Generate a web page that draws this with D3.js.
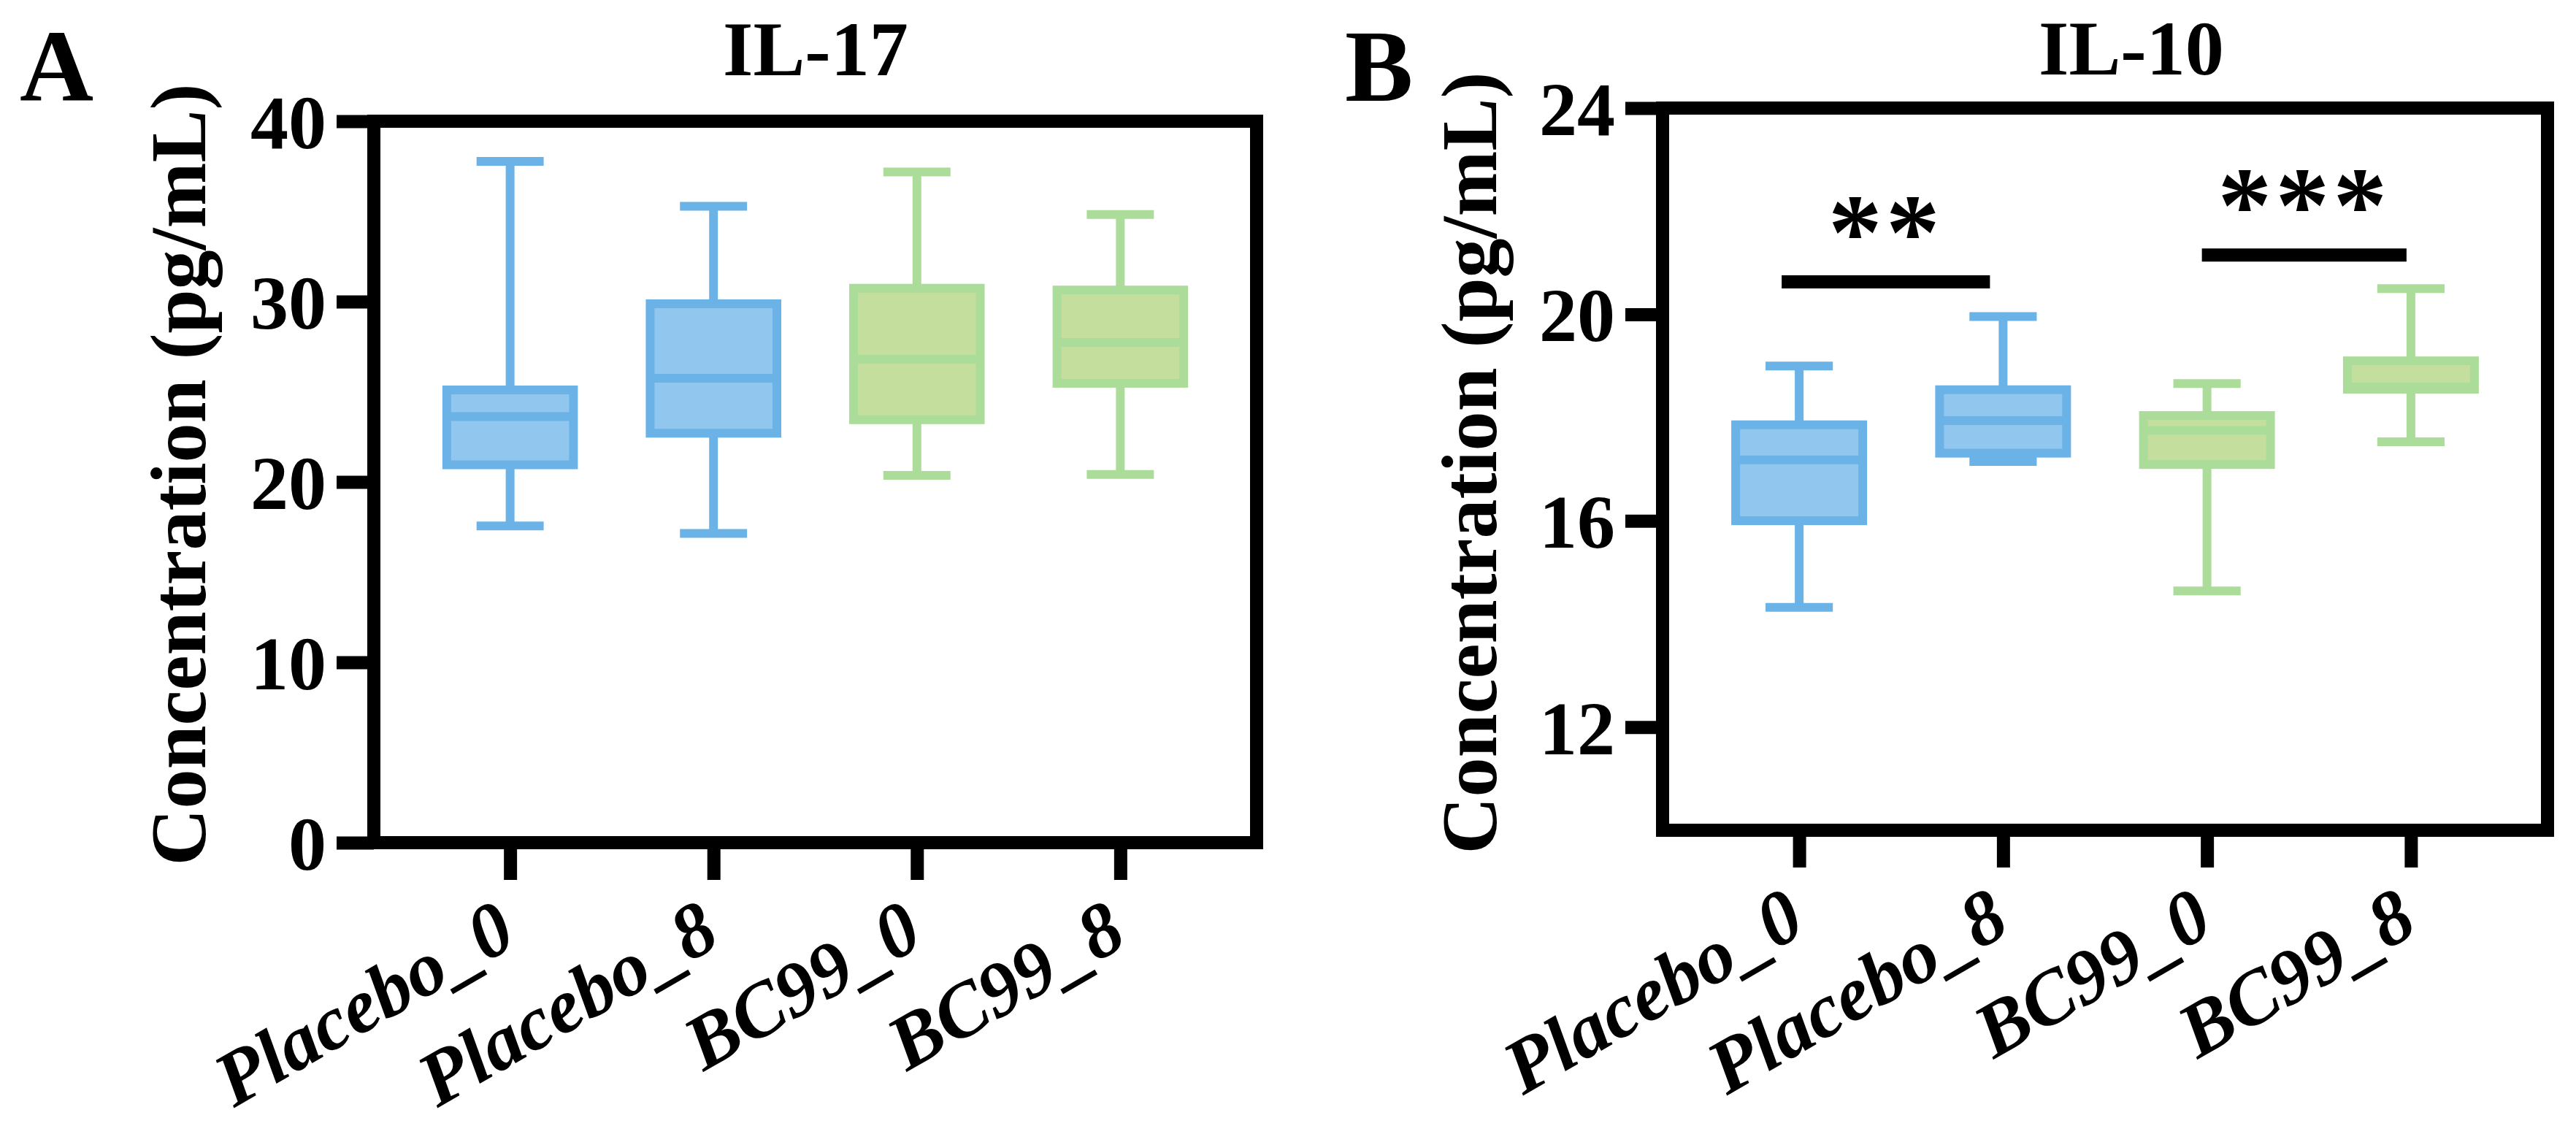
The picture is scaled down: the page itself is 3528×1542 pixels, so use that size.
<!DOCTYPE html>
<html>
<head>
<meta charset="utf-8">
<script src="https://cdn.jsdelivr.net/npm/d3@7"></script>
<style>
  html, body { margin: 0; padding: 0; background: #fff; }
  svg { display: block; }
</style>
</head>
<body>
<script>
// ---------------- data ----------------
const categories = ["Placebo_0", "Placebo_8", "BC99_0", "BC99_8"];
const groupOf = ["Placebo", "Placebo", "BC99", "BC99"];

// IL-17 (pg/mL): min, Q1, median, Q3, max
const il17Min    = [17.56, 17.15, 20.36, 20.41];
const il17Q1     = [20.95, 22.70, 23.45, 25.47];
const il17Median = [23.62, 25.75, 26.80, 27.73];
const il17Q3     = [25.10, 29.88, 30.74, 30.64];
const il17Max    = [37.77, 35.28, 37.19, 34.83];
const il17Ticks  = [0, 10, 20, 30, 40];
const il17Domain = [0, 40];

// IL-10 (pg/mL)
const il10Min    = [14.32, 17.15, 14.64, 17.53];
const il10Q1     = [16.00, 17.31, 17.09, 18.55];
const il10Median = [17.18, 17.94, 17.75, 18.59];
const il10Q3     = [17.86, 18.54, 18.04, 19.10];
const il10Max    = [19.00, 19.96, 18.66, 20.50];
const il10Ticks  = [12, 16, 20, 24];
const il10Domain = [10, 24];

const il10Comparisons = [
  { from: "Placebo_0", to: "Placebo_8", y: 20.63, label: "**" },
  { from: "BC99_0",    to: "BC99_8",    y: 21.15, label: "***" }
];

const panelLetters = ["A", "B"];
const panelTitles  = ["IL-17", "IL-10"];
const yAxisTitle   = "Concentration (pg/mL)";

// ---------------- styling ----------------
const W = 3528, H = 1542;
const SERIF = "'Liberation Serif', 'Times New Roman', Times, serif";
const colors = {
  Placebo: { stroke: "#6BB2E6", fill: "#91C6EE" },
  BC99:    { stroke: "#ABDC99", fill: "#C4DE9E" }
};

const svg = d3.select("body").append("svg")
  .attr("width", W).attr("height", H)
  .attr("viewBox", `0 0 ${W} ${H}`);
svg.append("rect").attr("width", W).attr("height", H).attr("fill", "#fff");

// measure text width at a given font, used to size text to the reference's extents
function measure(text, size, weight, style) {
  const t = svg.append("text").text(text)
    .attr("font-family", SERIF).attr("font-size", size)
    .attr("font-weight", weight).attr("font-style", style || "normal");
  const w = t.node().getComputedTextLength();
  t.remove();
  return w;
}
const xLabelSize = 100 * 451 / measure("Placebo_0", 100, "bold", "italic");
const titleSize  = 100 * 254 / measure("IL-17", 100, "bold");
const ytitleSize = 108;
const ytitleSpacing = Math.max(0, (1069 - measure(yAxisTitle, ytitleSize, "bold")) / (yAxisTitle.length - 1));

const panels = [
  {
    letter: panelLetters[0], title: panelTitles[0],
    left: 512, right: 1721, top: 166, bottom: 1154,
    domain: il17Domain, ticks: il17Ticks,
    min: il17Min, q1: il17Q1, med: il17Median, q3: il17Q3, max: il17Max,
    letterX: 27, titleX: 1117, titleY: 103, ylabelX: 281, ylabelY: 650,
    comparisons: [], compOffsets: []
  },
  {
    letter: panelLetters[1], title: panelTitles[1],
    left: 2277, right: 3489, top: 148, bottom: 1137,
    domain: il10Domain, ticks: il10Ticks,
    min: il10Min, q1: il10Q1, med: il10Median, q3: il10Q3, max: il10Max,
    letterX: 1842, titleX: 2919, titleY: 102, ylabelX: 2049, ylabelY: 634,
    comparisons: il10Comparisons, compOffsets: [[-24, -18], [-7, -6]]
  }
];

const FRAME = 18, TICKLEN = 51, BOXSTROKE = 12;

panels.forEach(p => {
  const g = svg.append("g");
  const x = d3.scalePoint().domain(categories).range([p.left, p.right]).padding(0.67);
  const y = d3.scaleLinear().domain(p.domain).range([p.bottom, p.top]);
  const step = x.step();
  const boxW = step * 0.623;
  const capW = step * 0.33;

  // panel letter
  g.append("text").text(p.letter)
    .attr("x", p.letterX).attr("y", 138)
    .attr("font-family", SERIF).attr("font-weight", "bold").attr("font-size", 140)
    .attr("fill", "#000");

  // title
  g.append("text").text(p.title)
    .attr("x", p.titleX).attr("y", p.titleY)
    .attr("text-anchor", "middle")
    .attr("font-family", SERIF).attr("font-weight", "bold").attr("font-size", titleSize)
    .attr("fill", "#000");

  // y axis title
  g.append("text").text(yAxisTitle)
    .attr("transform", `translate(${p.ylabelX},${p.ylabelY}) rotate(-90)`)
    .attr("text-anchor", "middle")
    .attr("letter-spacing", ytitleSpacing)
    .attr("font-family", SERIF).attr("font-weight", "bold").attr("font-size", ytitleSize)
    .attr("fill", "#000");

  // boxes
  categories.forEach((c, i) => {
    const cx = x(c);
    const col = colors[groupOf[i]];
    const bg = g.append("g");
    bg.append("line").attr("x1", cx).attr("x2", cx)
      .attr("y1", y(p.q3[i])).attr("y2", y(p.max[i]))
      .attr("stroke", col.stroke).attr("stroke-width", BOXSTROKE);
    bg.append("line").attr("x1", cx).attr("x2", cx)
      .attr("y1", y(p.q1[i])).attr("y2", y(p.min[i]))
      .attr("stroke", col.stroke).attr("stroke-width", BOXSTROKE);
    [p.max[i], p.min[i]].forEach(v => {
      bg.append("line").attr("x1", cx - capW / 2).attr("x2", cx + capW / 2)
        .attr("y1", y(v)).attr("y2", y(v))
        .attr("stroke", col.stroke).attr("stroke-width", BOXSTROKE);
    });
    bg.append("rect")
      .attr("x", cx - boxW / 2).attr("width", boxW)
      .attr("y", y(p.q3[i])).attr("height", y(p.q1[i]) - y(p.q3[i]))
      .attr("fill", col.fill).attr("stroke", col.stroke).attr("stroke-width", BOXSTROKE);
    bg.append("line").attr("x1", cx - boxW / 2).attr("x2", cx + boxW / 2)
      .attr("y1", y(p.med[i])).attr("y2", y(p.med[i]))
      .attr("stroke", col.stroke).attr("stroke-width", BOXSTROKE);
  });

  // frame
  g.append("rect")
    .attr("x", p.left).attr("y", p.top)
    .attr("width", p.right - p.left).attr("height", p.bottom - p.top)
    .attr("fill", "none").attr("stroke", "#000").attr("stroke-width", FRAME);

  // y axis
  const yAxis = g.append("g").attr("transform", `translate(${p.left},0)`)
    .call(d3.axisLeft(y).tickValues(p.ticks).tickSize(TICKLEN).tickSizeOuter(0).tickPadding(14)
      .tickFormat(d3.format("d")));
  yAxis.select(".domain").remove();
  yAxis.selectAll(".tick line").attr("stroke", "#000").attr("stroke-width", FRAME);
  yAxis.selectAll(".tick text")
    .attr("font-family", SERIF).attr("font-weight", "bold").attr("font-size", 104)
    .attr("fill", "#000").attr("dy", "0.35em");

  // x axis
  const xAxis = g.append("g").attr("transform", `translate(0,${p.bottom})`)
    .call(d3.axisBottom(x).tickSize(TICKLEN).tickSizeOuter(0));
  xAxis.select(".domain").remove();
  xAxis.selectAll(".tick line").attr("stroke", "#000").attr("stroke-width", FRAME);
  xAxis.selectAll(".tick text")
    .attr("x", 0).attr("y", 0).attr("dy", 0)
    .attr("transform", "translate(12,138) rotate(-30)")
    .style("text-anchor", "end")
    .attr("font-family", SERIF).attr("font-weight", "bold").attr("font-style", "italic")
    .attr("font-size", xLabelSize).attr("fill", "#000");

  // significance
  p.comparisons.forEach((cmp, k) => {
    const off = p.compOffsets[k];
    const x1 = x(cmp.from) + off[0], x2 = x(cmp.to) + off[1];
    const yy = y(cmp.y);
    g.append("line").attr("x1", x1).attr("x2", x2).attr("y1", yy).attr("y2", yy)
      .attr("stroke", "#000").attr("stroke-width", FRAME);
    g.append("text").text(cmp.label)
      .attr("x", (x1 + x2) / 2).attr("y", yy - 18)
      .attr("text-anchor", "middle")
      .attr("font-family", SERIF).attr("font-weight", "bold").attr("font-size", 148)
      .attr("letter-spacing", 5)
      .attr("fill", "#000");
  });
});
</script>
</body>
</html>
